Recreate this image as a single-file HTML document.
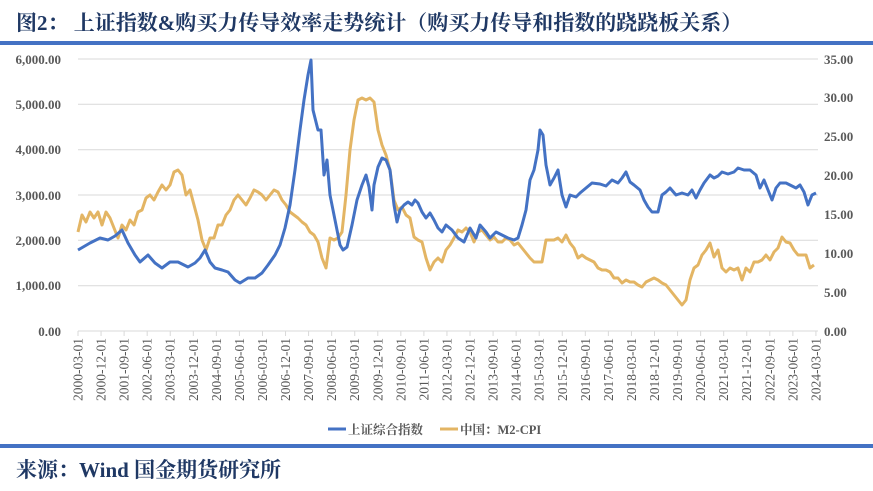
<!DOCTYPE html>
<html><head><meta charset="utf-8"><style>
body{margin:0;background:#fff;}
svg{display:block;font-family:"Liberation Serif","Noto Serif CJK SC",serif;}
</style></head><body>
<svg width="873" height="491" viewBox="0 0 873 491">
<text x="16" y="30" font-size="21" font-weight="bold" fill="#1f3864">图2：  上证指数&amp;购买力传导效率走势统计（购买力传导和指数的跷跷板关系）</text>
<rect x="0" y="41" width="873" height="4" fill="#4472c4"/>
<g stroke="#d9d9d9" stroke-width="1">
<line x1="78" y1="59" x2="818" y2="59"/><line x1="78" y1="104.3" x2="818" y2="104.3"/><line x1="78" y1="149.7" x2="818" y2="149.7"/><line x1="78" y1="195" x2="818" y2="195"/><line x1="78" y1="240.3" x2="818" y2="240.3"/><line x1="78" y1="285.7" x2="818" y2="285.7"/><line x1="78" y1="331" x2="818" y2="331"/>
</g>
<g font-size="13" font-weight="bold" fill="#595959" text-anchor="end">
<text x="61" y="64">6,000.00</text><text x="61" y="109">5,000.00</text><text x="61" y="154">4,000.00</text><text x="61" y="200">3,000.00</text><text x="61" y="245">2,000.00</text><text x="61" y="290">1,000.00</text><text x="61" y="336">0.00</text>
</g>
<g font-size="13" font-weight="bold" fill="#595959" text-anchor="start">
<text x="824" y="64">35.00</text><text x="824" y="102">30.00</text><text x="824" y="141">25.00</text><text x="824" y="180">20.00</text><text x="824" y="219">15.00</text><text x="824" y="258">10.00</text><text x="824" y="297">5.00</text><text x="824" y="336">0.00</text>
</g>
<g id="ticks" stroke="#d9d9d9"></g>
<g id="xl" font-size="13.5" fill="#595959"></g>
<polyline fill="none" stroke="#e3b564" stroke-width="3" stroke-linejoin="round" points="78,232 82,215 86,222 90,212 94,218 98,212 102,225 106,212 110,218 114,228 118,238 122,225 126,230 130,220 134,225 138,212 142,210 146,198 150,195 154,200 158,192 162,185 166,190 170,185 174,172 178,170 182,175 186,195 190,190 194,205 198,220 202,240 206,250 210,238 214,238 218,225 222,225 226,215 230,210 234,200 238,195 242,200 246,205 250,198 254,190 258,192 262,195 266,200 270,195 274,190 278,192 282,200 286,205 290,212 294,215 298,218 302,222 306,225 310,232 314,235 318,242 322,258 326,268 330,238 334,240 338,238 342,232 346,195 350,150 354,120 358,100 362,98 366,100 370,98 374,102 378,130 382,145 386,155 390,170 394,200 398,210 402,207 406,215 410,218 414,237 418,240 422,242 426,258 430,270 434,262 438,258 442,262 446,250 450,245 454,238 458,230 462,232 466,228 470,232 474,242 478,232 482,230 486,235 490,240 494,237 498,242 502,242 506,238 510,240 514,245 518,243 522,248 526,253 530,258 534,262 538,262 542,262 546,240 550,240 554,240 558,238 562,242 566,235 570,243 574,248 578,258 582,255 586,258 590,260 594,262 598,268 602,270 606,270 610,272 614,278 618,278 622,283 626,280 630,282 634,282 638,285 642,287 646,282 650,280 654,278 658,280 662,283 666,285 670,290 674,295 678,300 682,305 686,300 690,280 694,268 698,265 702,255 706,250 710,243 714,257 718,250 722,268 726,272 730,268 734,270 738,268 742,280 746,268 750,272 754,262 758,262 762,260 766,255 770,260 774,252 778,248 782,237 786,242 790,243 794,250 798,255 802,255 806,255 810,268 814,265"/>
<polyline fill="none" stroke="#4472c4" stroke-width="3" stroke-linejoin="round" points="78,250 90,243 100,238 108,240 115,236 122,230 128,243 135,255 140,262 148,255 155,263 162,268 170,262 178,262 188,267 195,263 200,258 205,250 210,262 215,268 222,270 228,272 235,280 240,283 248,278 255,278 262,273 268,265 275,255 280,245 285,228 290,205 295,170 300,130 304,100 308,75 311,60 313,110 318,130 321,130 324,175 327,160 330,195 335,220 340,245 343,250 347,247 352,225 357,200 362,185 366,175 369,187 372,210 374,185 378,167 382,158 386,160 390,170 394,205 397,222 400,210 404,205 408,202 412,205 415,200 418,203 422,212 426,218 430,213 434,220 438,228 442,232 446,225 452,230 458,238 464,242 470,228 476,238 480,225 486,232 490,238 496,232 502,235 508,238 514,240 518,238 522,225 526,210 530,180 534,170 538,150 540,130 543,135 546,165 550,185 554,178 558,170 562,195 566,207 570,195 576,197 580,193 586,188 592,183 600,184 606,186 612,180 618,183 622,178 626,172 630,182 634,185 640,190 644,200 648,207 652,212 658,212 662,195 666,192 670,188 676,195 682,193 688,195 692,190 696,198 700,190 704,183 710,175 714,178 718,176 722,172 728,174 734,172 738,168 744,170 750,170 756,175 760,188 764,180 768,190 772,200 776,188 780,183 786,183 790,185 796,188 800,185 804,192 808,205 812,195 816,193"/>
<line x1="328" y1="429" x2="346" y2="429" stroke="#4472c4" stroke-width="3"/>
<text x="348" y="434" font-size="12.5" font-weight="bold" fill="#595959">上证综合指数</text>
<line x1="440" y1="429" x2="458" y2="429" stroke="#e3b564" stroke-width="3"/>
<text x="460" y="434" font-size="12.5" font-weight="bold" fill="#595959">中国：M2-CPI</text>
<rect x="0" y="444" width="873" height="4" fill="#4472c4"/>
<text x="16" y="477" font-size="21" font-weight="bold" fill="#1f3864">来源：Wind  国金期货研究所</text>
</svg>
<script>
var t=document.getElementById('ticks'),xl=document.getElementById('xl'),ns='http://www.w3.org/2000/svg';
for(var i=0;i<33;i++){var m=2+9*i,y=2000+Math.floor(m/12),mo=m%12+1,x=78+i*23.06;
var l=document.createElementNS(ns,'line');l.setAttribute('x1',x);l.setAttribute('x2',x);l.setAttribute('y1',331);l.setAttribute('y2',336);t.appendChild(l);
var tx=document.createElementNS(ns,'text');tx.setAttribute('transform','translate('+(x+4.5)+',338) rotate(-90)');tx.setAttribute('text-anchor','end');tx.textContent=y+'-'+(mo<10?'0':'')+mo+'-01';xl.appendChild(tx);}
</script>
</body></html>
